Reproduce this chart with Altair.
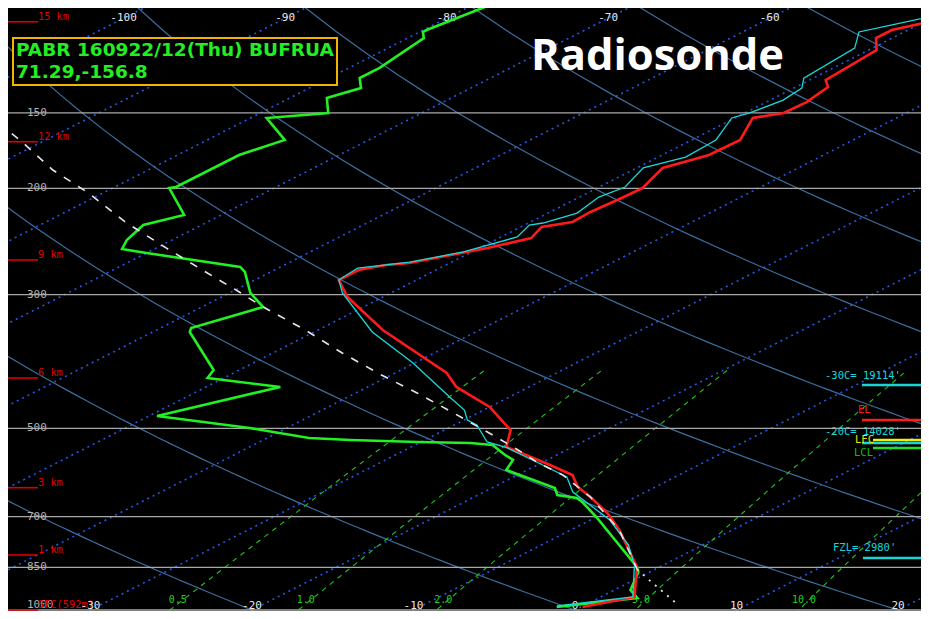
import numpy as np
import pandas as pd
import altair as alt

# ---------------- data ----------------
# Temperature (red)
T_P = [106.0, 109.3, 112.7, 118.0, 132.3, 135.9, 143.9, 150.0, 152.9, 166.3, 176.1, 185.0, 199.8, 209.1,
       218.9, 227.4, 231.8, 241.8, 251.1, 266.0, 268.0, 273.2, 283.8, 302.8, 343.4, 404.7, 426.9, 460.8,
       484.2, 503.1, 536.8, 553.4, 575.0, 597.3, 625.3, 649.7, 690.6, 736.8, 848.6, 951.6, 988.6]
T_T = [-49.7, -51.0, -51.0, -49.5, -49.0, -48.0, -47.5, -47.6, -48.9, -47.0, -47.1, -48.4, -47.2, -47.3,
       -47.5, -47.4, -48.7, -48.0, -49.5, -52.5, -53.7, -54.8, -54.8, -52.2, -46.0, -36.8, -34.5, -30.0,
       -27.7, -25.9, -24.1, -21.9, -19.2, -16.6, -14.8, -12.8, -9.8, -7.0, -1.4, 2.1, 0.1]

# Wet-bulb temperature (cyan)
TW_P = [104.0, 107.2, 110.1, 117.1, 131.3, 136.4, 142.8, 150.0, 152.9, 166.3, 177.5, 185.0, 199.0, 206.8,
        219.8, 228.3, 230.1, 240.8, 255.0, 265.0, 271.1, 283.8, 298.2, 346.1, 389.6, 443.5, 466.1, 484.2,
        493.6, 526.6, 538.8, 568.4, 601.9, 637.4, 709.3, 780.3, 842.2, 951.6, 984.8]
TW_T = [-50.3, -51.6, -52.8, -51.1, -50.6, -49.5, -49.2, -49.7, -50.2, -48.5, -48.3, -49.6, -48.4, -48.8,
        -48.2, -49.1, -49.7, -49.0, -50.5, -52.6, -55.1, -54.8, -53.0, -46.4, -40.1, -33.7, -31.2, -29.8,
        -28.6, -25.9, -23.9, -20.4, -16.7, -14.5, -8.8, -4.6, -1.8, 2.0, -1.6]

# Dewpoint (green)
TD_P = [100.1, 109.3, 110.1, 112.7, 126.3, 131.3, 136.4, 141.7, 150.0, 152.9, 166.3, 176.1, 199.0, 199.8,
        221.4, 230.1, 243.6, 252.1, 256.0, 270.0, 275.2, 298.2, 314.6, 340.9, 346.1, 400.1, 412.5, 426.9,
        476.9, 499.3, 518.7, 522.6, 526.6, 528.7, 532.7, 553.4, 564.1, 586.0, 627.7, 644.7, 652.2, 662.2,
        701.2, 848.6, 865.0, 926.5, 955.2, 988.6]
TD_T = [-79.0, -79.8, -79.8, -79.0, -78.1, -78.1, -76.8, -77.7, -75.8, -79.0, -75.2, -76.2, -76.2, -76.5,
        -72.3, -73.6, -72.8, -72.0, -70.0, -62.5, -61.6, -58.7, -56.2, -58.1, -57.7, -51.6, -51.0, -45.4,
        -49.5, -42.3, -37.4, -34.6, -30.2, -26.8, -25.2, -23.2, -22.1, -21.3, -16.1, -15.1, -13.5, -12.7,
        -10.0, -1.4, -0.7, 1.0, 2.4, -1.5]

# Parcel trace (white): lower dotted part and upper dashed part
PL_P = [969.9, 858.4]
PL_T = [5.2, -1.0]
PU_P = [858.4, 736.8, 649.7, 597.3, 568.4, 543.0, 512.8, 471.5, 436.8, 407.8, 375.0, 343.4, 314.6,
        297.1, 276.3, 251.1, 227.4, 203.6, 186.5, 166.3, 150.0]
PU_T = [-1.0, -7.0, -12.8, -17.2, -20.4, -23.0, -26.4, -31.5, -36.2, -40.6, -45.7, -50.8, -56.2,
        -59.5, -63.8, -69.4, -75.1, -80.9, -85.9, -91.6, -97.0]

# Background reference values
ISOTHERMS = list(range(-130, 50, 10))
THETAS = list(range(-40, 161, 20))          # dry adiabats, deg C at 1000 hPa
MIX_W = [0.5, 1.0, 2.0, 5.0, 10.0]         # g/kg
MIX_LABELS = ["0.5", "1.0", "2.0", "5.0", "10.0"]
P_LEVELS = [150, 200, 300, 500, 700, 850, 1000]
TOP_T = [-100, -90, -80, -70, -60]
BOT_T = [-30, -20, -10, 0, 10, 20]
HGT_LABELS = ["15 km", "12 km", "9 km", "6 km", "3 km", "1 km", "SFC(592m)"]
HGT_P = [105.9, 167.4, 262.9, 412.5, 627.0, 810.6, 1000.0]

ANN_LINE_P = [423.7, 484.2, 522.6, 528.7, 538.8, 820.1]
ANN_LINE_C = ["#19d6d6", "#ff1a1a", "#f0f000", "#19d6d6", "#20e020", "#19d6d6"]
ANN_TEXT = ["-30C= 19114'", "EL", "-20C= 14028'", "LFC", "LCL", "FZL= 2980'"]
ANN_TEXT_P = [409.4, 466.1, 506.9, 522.6, 549.3, 789.2]
ANN_TEXT_C = ["#19d6d6", "#ff1a1a", "#19d6d6", "#e6e600", "#10c010", "#19d6d6"]

HEADER1 = "PABR 160922/12(Thu) BUFRUA"
HEADER2 = "71.29,-156.8"
TITLE = "Radiosonde"

# ---------------- layout / style ----------------
SKEW = 31.9
W, H = 913, 603
X_DOM = [-35.108, 21.424]
Y_DOM = [-0.00382, 2.2977]
ANN_LINE_X0 = [854, 854, 865, 854, 865, 855]
ANN_TEXT_X = [817, 850, 817, 847, 846, 825]
MONO = "DejaVu Sans Mono"

X = alt.X("xs:Q", scale=alt.Scale(domain=X_DOM, nice=False, zero=False), axis=None)
Y = alt.Y("L:Q", scale=alt.Scale(domain=Y_DOM, nice=False, zero=False), axis=None)
CALC = dict(L="log(1000/datum.p)", xs=f"datum.T + {SKEW}*log(1000/datum.p)")


def prof(p_list, t_list):
    return pd.DataFrame({"p": p_list, "T": t_list, "i": list(range(len(p_list)))})


def line_layer(df, color, width, dash=None, detail=None):
    mk = dict(color=color, strokeWidth=width, clip=True)
    if dash:
        mk["strokeDash"] = dash
    enc = dict(x=X, y=Y, order=alt.Order("i:Q"))
    if detail:
        enc["detail"] = alt.Detail(detail + ":N")
    return alt.Chart(df).transform_calculate(**CALC).mark_line(**mk).encode(**enc)


# background tables
iso_rows = []
for t in ISOTHERMS:
    for i, p in enumerate([1100.0, 90.0]):
        iso_rows.append({"g": t, "p": p, "T": float(t), "i": i})
iso_df = pd.DataFrame(iso_rows)

ad_rows = []
p_grid = np.arange(1100.0, 85.0, -10.0)
for th in THETAS:
    for i, p in enumerate(p_grid):
        ad_rows.append({"g": th, "p": p, "T": (th + 273.15) * (p / 1000.0) ** 0.2857 - 273.15, "i": i})
ad_df = pd.DataFrame(ad_rows)


def td_from_w(w, p):
    e = w * p / (622.0 + w)
    a = np.log(e / 6.112)
    return 243.5 * a / (17.67 - a)


mx_rows = []
p_mix = np.arange(1100.0, 399.0, -10.0)
for w in MIX_W:
    for i, p in enumerate(p_mix):
        mx_rows.append({"g": w, "p": p, "T": td_from_w(w, p), "i": i})
mx_df = pd.DataFrame(mx_rows)

mx_lab = pd.DataFrame({"lab": MIX_LABELS, "p": [962.5] * len(MIX_W),
                       "T": [td_from_w(w, 962.5) for w in MIX_W]})

layers = []
layers.append(line_layer(iso_df, "#2358ee", 1.6, dash=[2, 4], detail="g"))
layers.append(line_layer(ad_df, "#3d6e9f", 1.2, detail="g"))
layers.append(line_layer(mx_df, "#1fc41f", 1.1, dash=[5, 5], detail="g"))

# pressure lines
plev = pd.DataFrame({"p": P_LEVELS, "lab": [str(v) for v in P_LEVELS]})
layers.append(alt.Chart(plev).transform_calculate(L="log(1000/datum.p)")
              .mark_rule(color="#a9a9a9", strokeWidth=1.3).encode(y=Y))
layers.append(alt.Chart(plev).transform_calculate(L="max(log(1000/datum.p), 0.018)")
              .mark_text(align="left", baseline="middle", font=MONO, fontSize=11, color="#b4b4b4")
              .encode(x=alt.value(19), y=Y, text="lab:N"))

# height markers
hg = pd.DataFrame({"p": HGT_P, "lab": HGT_LABELS})
layers.append(alt.Chart(hg).transform_calculate(L="log(1000/datum.p)")
              .mark_rule(color="#d80000", strokeWidth=1.6).encode(x=alt.value(0), x2=alt.value(30), y=Y))
layers.append(alt.Chart(hg).transform_calculate(L="log(1000/datum.p)")
              .mark_text(align="left", baseline="middle", dy=-5, font=MONO, fontSize=10.3, color="#e00000")
              .encode(x=alt.value(30), y=Y, text="lab:N"))

# temperature labels
top = pd.DataFrame({"T": TOP_T, "p": [104.5] * len(TOP_T), "lab": [str(v) for v in TOP_T]})
bot = pd.DataFrame({"T": BOT_T, "p": [1000.0] * len(BOT_T), "lab": [str(v) for v in BOT_T]})
layers.append(alt.Chart(top).transform_calculate(**CALC)
              .mark_text(align="center", baseline="middle", font=MONO, fontSize=11, color="#e8e8e8")
              .encode(x=X, y=Y, text="lab:N"))
layers.append(alt.Chart(bot).transform_calculate(**CALC)
              .mark_text(align="center", baseline="middle", dy=-4, font=MONO, fontSize=11, color="#e8e8e8")
              .encode(x=X, y=Y, text="lab:N"))
layers.append(alt.Chart(mx_lab).transform_calculate(**CALC)
              .mark_text(align="center", baseline="middle", dx=-5, font=MONO, fontSize=10, color="#22d022")
              .encode(x=X, y=Y, text="lab:N"))

# profiles
layers.append(line_layer(prof(TD_P, TD_T), "#22f022", 2.6))
layers.append(line_layer(prof(T_P, T_T), "#ff1a1a", 2.6))
layers.append(line_layer(prof(TW_P, TW_T), "#1ad8d8", 1.3))
layers.append(line_layer(prof(PL_P, PL_T), "#e6e6e6", 1.8, dash=[2, 6]))
layers.append(line_layer(prof(PU_P, PU_T), "#e6e6e6", 1.6, dash=[8, 9]))

# right-side annotations
for p, c, x0 in zip(ANN_LINE_P, ANN_LINE_C, ANN_LINE_X0):
    layers.append(alt.Chart(pd.DataFrame({"p": [p]})).transform_calculate(L="log(1000/datum.p)")
                  .mark_rule(color=c, strokeWidth=2.4).encode(x=alt.value(x0), x2=alt.value(W), y=Y))
for t, p, c, x0 in zip(ANN_TEXT, ANN_TEXT_P, ANN_TEXT_C, ANN_TEXT_X):
    layers.append(alt.Chart(pd.DataFrame({"p": [p], "lab": [t]})).transform_calculate(L="log(1000/datum.p)")
                  .mark_text(align="left", baseline="middle", font=MONO, fontSize=10.5, color=c)
                  .encode(x=alt.value(x0), y=Y, text="lab:N"))

# header box and title
one = pd.DataFrame({"a": [0]})
layers.append(alt.Chart(one).mark_rect(fill="black", stroke="#f2b400", strokeWidth=2)
              .encode(x=alt.value(5), x2=alt.value(329), y=alt.value(30), y2=alt.value(77)))
layers.append(alt.Chart(pd.DataFrame({"t": [HEADER1]})).mark_text(
    align="left", baseline="middle", font="DejaVu Sans", fontWeight="bold", fontSize=18.5, color="#22ee22")
    .encode(x=alt.value(8), y=alt.value(41.5), text="t:N"))
layers.append(alt.Chart(pd.DataFrame({"t": [HEADER2]})).mark_text(
    align="left", baseline="middle", font="DejaVu Sans", fontWeight="bold", fontSize=18.5, color="#22ee22")
    .encode(x=alt.value(8), y=alt.value(64), text="t:N"))
layers.append(alt.Chart(pd.DataFrame({"t": [TITLE]})).mark_text(
    align="center", baseline="alphabetic", font="Open Sans", fontWeight="bold", fontSize=43.5, color="white")
    .encode(x=alt.value(649.5), y=alt.value(62), text="t:N"))

chart = alt.layer(*layers).properties(
    width=W, height=H, padding=0, background="black",
    autosize=alt.AutoSizeParams(type="none"),
).configure_view(fill="black", stroke=None, clip=True)

chart.save("out.html", embed_options={"renderer": "svg", "actions": False})
